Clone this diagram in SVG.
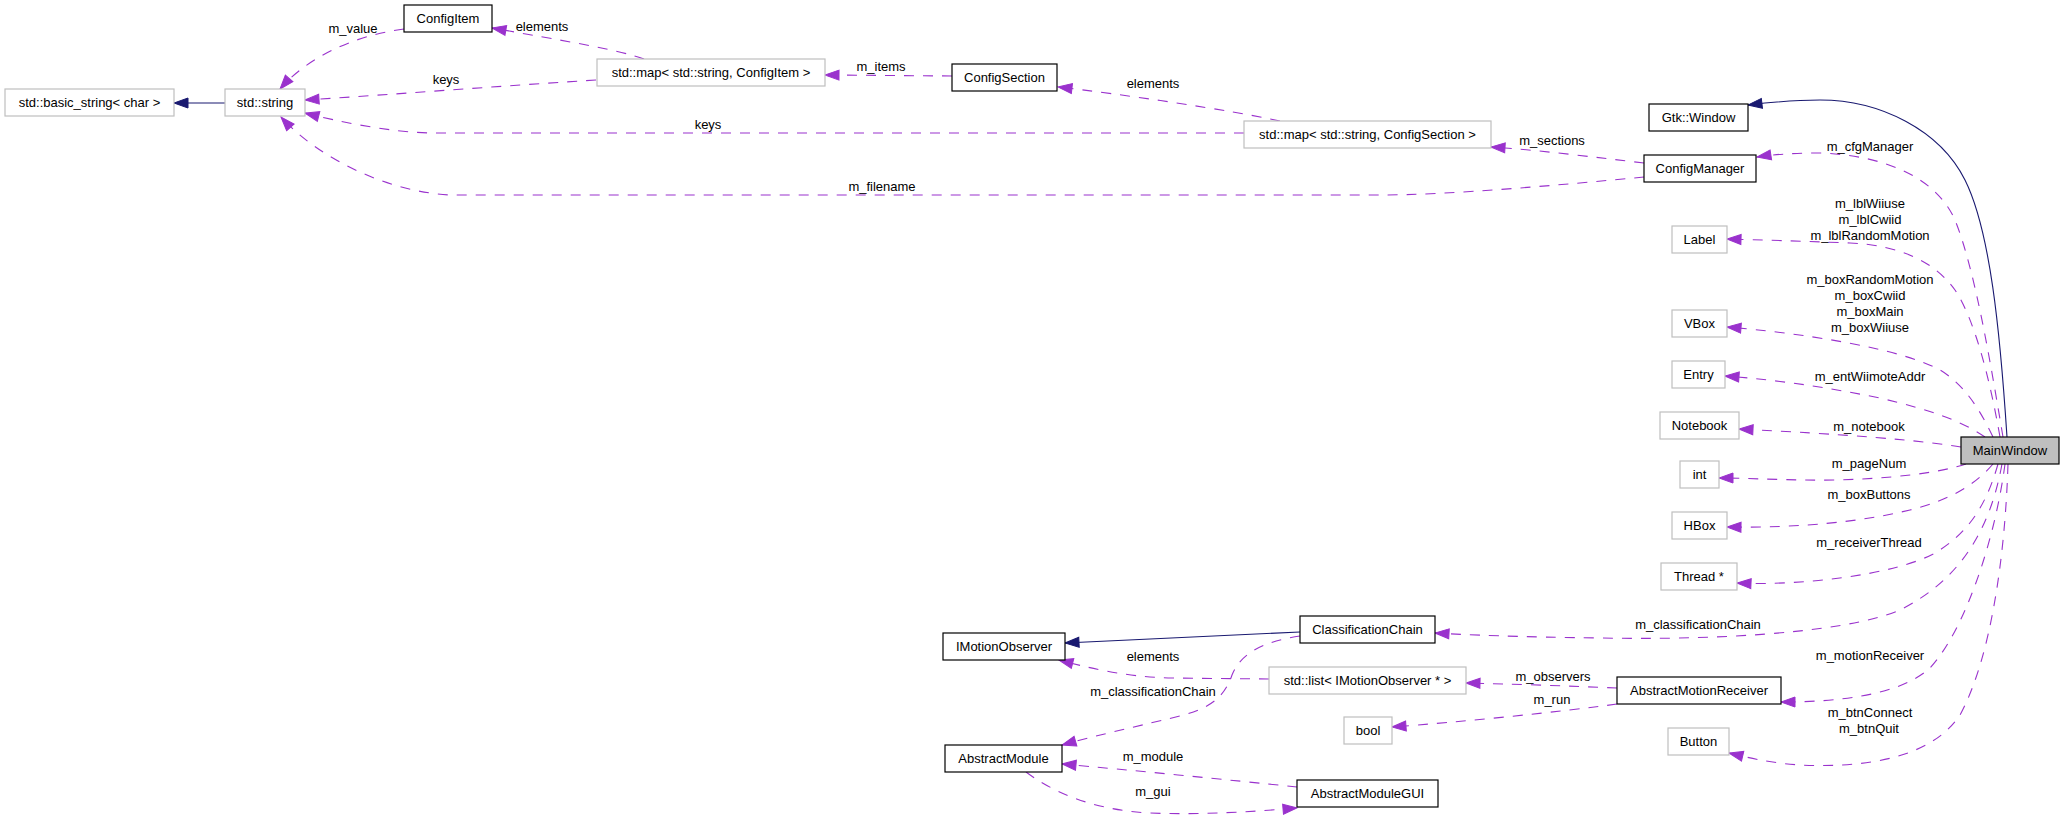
<svg xmlns="http://www.w3.org/2000/svg" width="2064" height="823" viewBox="0 0 2064 823">
<style>
text{font-family:"Liberation Sans",Arial,sans-serif;font-size:13px;fill:#000;text-anchor:middle}
.n rect{fill:#fff;stroke:#000;stroke-width:1.2}
.g rect{fill:#fff;stroke:#bfbfbf;stroke-width:1.2}
.m rect{fill:#bfbfbf;stroke:#000;stroke-width:1.2}
.d{fill:none;stroke:#9a32cd;stroke-width:1.1;stroke-dasharray:10,9;marker-end:url(#ap)}
.i{fill:none;stroke:#191970;stroke-width:1.1;marker-end:url(#an)}
</style>
<defs>
<marker id="ap" markerUnits="userSpaceOnUse" markerWidth="16" markerHeight="12" refX="14" refY="5" orient="auto" overflow="visible"><path d="M0,0 L14,5 L0,10 z" fill="#9a32cd" stroke="#9a32cd" stroke-width="1"/></marker>
<marker id="an" markerUnits="userSpaceOnUse" markerWidth="16" markerHeight="12" refX="14" refY="5" orient="auto" overflow="visible"><path d="M0,0 L14,5 L0,10 z" fill="#191970" stroke="#191970" stroke-width="1"/></marker>
</defs>
<rect width="2064" height="823" fill="#fff"/>
<g id="connectors">
<path class="i" d="M225,103 L174,103"/>
<path class="d" d="M404,29 C350,36 305,60 280,89"/>
<text x="353" y="33">m_value</text>
<path class="d" d="M644,59 C620,50 560,40 492,28"/>
<text x="542" y="31">elements</text>
<path class="d" d="M596,80 C500,86 400,94 305,100"/>
<text x="446" y="84">keys</text>
<path class="d" d="M952,76 L825,75"/>
<text x="881" y="71">m_items</text>
<path class="d" d="M1280,121 C1230,110 1120,94 1058,87"/>
<text x="1153" y="88">elements</text>
<path class="d" d="M1244,133 L430,133 C390,132 340,122 305,113"/>
<text x="708" y="129">keys</text>
<path class="d" d="M1644,163 C1600,158 1540,150 1491,147"/>
<text x="1552" y="145">m_sections</text>
<path class="d" d="M1644,177 C1560,185 1450,195 1380,195 L450,195 C390,192 320,160 281,117"/>
<text x="882" y="191">m_filename</text>
<path class="i" d="M2007,437 C2000,330 1990,230 1965,180 C1940,130 1880,100 1820,100 C1790,100 1765,103 1748,105"/>
<path class="d" d="M2003,437 C1990,360 1975,270 1955,220 C1935,175 1880,155 1820,153 C1790,153 1770,155 1757,157"/>
<text x="1870" y="151">m_cfgManager</text>
<path class="d" d="M2000,437 C1990,380 1975,320 1955,290 C1935,262 1900,245 1850,243 C1800,241 1760,240 1727,239"/>
<text x="1870" y="208">m_lblWiiuse</text>
<text x="1870" y="224">m_lblCwiid</text>
<text x="1870" y="240">m_lblRandomMotion</text>
<path class="d" d="M1993,437 C1980,410 1965,385 1940,370 C1900,348 1800,333 1727,327"/>
<text x="1870" y="284">m_boxRandomMotion</text>
<text x="1870" y="300">m_boxCwiid</text>
<text x="1870" y="316">m_boxMain</text>
<text x="1870" y="332">m_boxWiiuse</text>
<path class="d" d="M1985,437 C1960,420 1930,410 1880,398 C1830,388 1780,380 1725,376"/>
<text x="1870" y="381">m_entWiimoteAddr</text>
<path class="d" d="M1961,447 C1920,440 1840,434 1739,429"/>
<text x="1869" y="431">m_notebook</text>
<path class="d" d="M1966,464 C1930,476 1860,481 1800,480 C1760,479 1735,478 1719,478"/>
<text x="1869" y="468">m_pageNum</text>
<path class="d" d="M1993,464 C1975,485 1950,500 1910,510 C1860,522 1800,528 1727,527"/>
<text x="1869" y="499">m_boxButtons</text>
<path class="d" d="M1998,464 C1985,510 1965,535 1935,553 C1895,575 1800,586 1737,583"/>
<text x="1869" y="547">m_receiverThread</text>
<path class="d" d="M2002,464 C1990,530 1960,580 1900,610 C1840,635 1700,640 1600,638 C1520,637 1470,635 1435,633"/>
<text x="1698" y="629">m_classificationChain</text>
<path class="d" d="M2005,464 C1995,540 1965,630 1930,668 C1900,695 1840,702 1781,702"/>
<text x="1870" y="660">m_motionReceiver</text>
<path class="d" d="M2008,464 C2005,560 1990,660 1960,715 C1930,760 1860,768 1800,765 C1770,763 1750,758 1729,753"/>
<text x="1870" y="717">m_btnConnect</text>
<text x="1869" y="733">m_btnQuit</text>
<path class="d" d="M1617,688 C1570,686 1510,684 1466,683"/>
<text x="1553" y="681">m_observers</text>
<path class="d" d="M1617,704 C1560,712 1460,722 1392,727"/>
<text x="1552" y="704">m_run</text>
<path class="i" d="M1300,632 L1065,643"/>
<path class="d" d="M1269,679 L1168,678 C1120,676 1090,668 1059,660"/>
<text x="1153" y="661">elements</text>
<path class="d" d="M1300,636 C1260,642 1240,655 1232,675 C1224,698 1210,708 1180,716 C1130,728 1090,737 1062,745"/>
<text x="1153" y="696">m_classificationChain</text>
<path class="d" d="M1297,787 C1230,780 1130,770 1062,764"/>
<text x="1153" y="761">m_module</text>
<path class="d" d="M1026,772 C1050,790 1090,810 1150,813 C1200,815 1250,812 1297,808"/>
<text x="1153" y="796">m_gui</text>
</g>
<g id="n_basic_string" class="g"><rect x="5" y="89" width="169" height="27"/><text x="89.5" y="107">std::basic_string&lt; char &gt;</text></g>
<g id="n_string" class="g"><rect x="225" y="89" width="80" height="27"/><text x="265" y="107">std::string</text></g>
<g id="n_ConfigItem" class="n"><rect x="404" y="5" width="88" height="27"/><text x="448" y="23">ConfigItem</text></g>
<g id="n_map_item" class="g"><rect x="597" y="59" width="228" height="27"/><text x="711" y="77">std::map&lt; std::string, ConfigItem &gt;</text></g>
<g id="n_ConfigSection" class="n"><rect x="952" y="64" width="105" height="27"/><text x="1004.5" y="82">ConfigSection</text></g>
<g id="n_map_section" class="g"><rect x="1244" y="121" width="247" height="27"/><text x="1367.5" y="139">std::map&lt; std::string, ConfigSection &gt;</text></g>
<g id="n_GtkWindow" class="n"><rect x="1649" y="104" width="99" height="27"/><text x="1698.5" y="122">Gtk::Window</text></g>
<g id="n_ConfigManager" class="n"><rect x="1644" y="155" width="112" height="27"/><text x="1700" y="173">ConfigManager</text></g>
<g id="n_Label" class="g"><rect x="1672" y="226" width="55" height="27"/><text x="1699.5" y="244">Label</text></g>
<g id="n_VBox" class="g"><rect x="1672" y="310" width="55" height="27"/><text x="1699.5" y="328">VBox</text></g>
<g id="n_Entry" class="g"><rect x="1672" y="361" width="53" height="27"/><text x="1698.5" y="379">Entry</text></g>
<g id="n_Notebook" class="g"><rect x="1660" y="412" width="79" height="27"/><text x="1699.5" y="430">Notebook</text></g>
<g id="n_MainWindow" class="m"><rect x="1961" y="437" width="98" height="27"/><text x="2010" y="455">MainWindow</text></g>
<g id="n_int" class="g"><rect x="1680" y="461" width="39" height="27"/><text x="1699.5" y="479">int</text></g>
<g id="n_HBox" class="g"><rect x="1672" y="512" width="55" height="27"/><text x="1699.5" y="530">HBox</text></g>
<g id="n_Thread" class="g"><rect x="1661" y="563" width="76" height="27"/><text x="1699" y="581">Thread *</text></g>
<g id="n_ClassificationChain" class="n"><rect x="1300" y="616" width="135" height="27"/><text x="1367.5" y="634">ClassificationChain</text></g>
<g id="n_IMotionObserver" class="n"><rect x="943" y="633" width="122" height="27"/><text x="1004" y="651">IMotionObserver</text></g>
<g id="n_list" class="g"><rect x="1269" y="667" width="197" height="27"/><text x="1367.5" y="685">std::list&lt; IMotionObserver * &gt;</text></g>
<g id="n_AbstractMotionReceiver" class="n"><rect x="1617" y="677" width="164" height="27"/><text x="1699" y="695">AbstractMotionReceiver</text></g>
<g id="n_bool" class="g"><rect x="1344" y="717" width="48" height="27"/><text x="1368" y="735">bool</text></g>
<g id="n_Button" class="g"><rect x="1668" y="728" width="61" height="27"/><text x="1698.5" y="746">Button</text></g>
<g id="n_AbstractModule" class="n"><rect x="945" y="745" width="117" height="27"/><text x="1003.5" y="763">AbstractModule</text></g>
<g id="n_AbstractModuleGUI" class="n"><rect x="1297" y="780" width="141" height="27"/><text x="1367.5" y="798">AbstractModuleGUI</text></g>
</svg>
